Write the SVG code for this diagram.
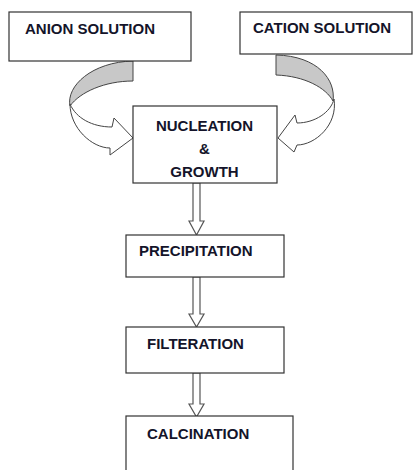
<svg xmlns="http://www.w3.org/2000/svg" width="413" height="470" viewBox="0 0 413 470">
<style>
.box{fill:#fff;stroke:#333;stroke-width:1.2}
.t{font-family:"Liberation Sans",Arial,sans-serif;font-weight:bold;font-size:15px;fill:#14142a}
.gray{fill:#c8c8c8;stroke:#444;stroke-width:1}
.wht{fill:#fff;stroke:#444;stroke-width:1}
.dn{fill:#fff;stroke:#555;stroke-width:1.2}
</style>
<rect width="413" height="470" fill="#fff"/>
<g id="connectors">
  <g id="curve-left">
    <path class="gray" d="M133,61 L133,81 C105,81 80,92 70,106 C66,86 92,62 133,61 Z"/>
    <path class="wht" d="M70,104 C70,128 92,148 110,148 L110,155 L133,138 L114,118 L112,127 C92,127 76,118 70,104 Z"/>
  </g>
  <g id="curve-right">
    <path class="gray" d="M276,55 L276,75 C305,76 326,88 333,101 C336,80 318,56 276,55 Z"/>
    <path class="wht" d="M334,99 C338,125 315,145 297,145 L294,152 L278,138 L295,115 L297,123 C315,123 331,112 334,99 Z"/>
  </g>
  <path class="dn" d="M193,183 L200,183 L200,221 L204,221 L196.5,235 L189,221 L193,221 Z"/>
  <path class="dn" d="M193,277 L200,277 L200,314 L204,314 L196.5,327 L189,314 L193,314 Z"/>
  <path class="dn" d="M193,373 L200,373 L200,404 L204,404 L196.5,417 L189,404 L193,404 Z"/>
</g>
<g id="anion">
  <rect class="box" x="9" y="12" width="182" height="49"/>
  <text class="t" x="25" y="34">ANION SOLUTION</text>
</g>
<g id="cation">
  <rect class="box" x="240" y="12" width="172" height="42"/>
  <text class="t" x="253" y="33">CATION SOLUTION</text>
</g>
<g id="nucleation">
  <rect class="box" x="133" y="106" width="144" height="77"/>
  <text class="t" x="204.5" y="131" text-anchor="middle">NUCLEATION</text>
  <text class="t" x="204.5" y="154" text-anchor="middle">&amp;</text>
  <text class="t" x="204.5" y="177" text-anchor="middle">GROWTH</text>
</g>
<g id="precipitation">
  <rect class="box" x="126" y="235" width="158" height="42"/>
  <text class="t" x="139" y="256">PRECIPITATION</text>
</g>
<g id="filteration">
  <rect class="box" x="126" y="327" width="158" height="46"/>
  <text class="t" x="147" y="349">FILTERATION</text>
</g>
<g id="calcination">
  <rect class="box" x="126" y="416" width="167" height="60"/>
  <text class="t" x="147" y="439">CALCINATION</text>
</g>
</svg>
